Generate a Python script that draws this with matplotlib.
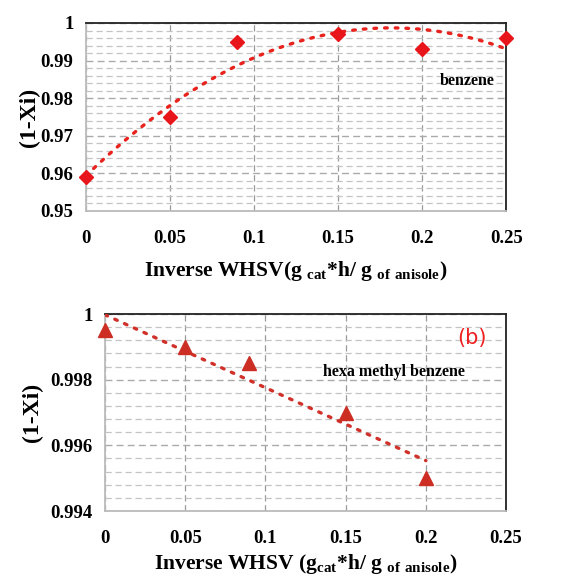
import matplotlib as mpl
mpl.use('Agg')
import matplotlib.pyplot as plt
from matplotlib.ticker import MultipleLocator, FuncFormatter
import numpy as np

# panel (a) benzene
x_benz = [0, 0.05, 0.09, 0.15, 0.2, 0.25]
y_benz = [0.959, 0.975, 0.995, 0.997, 0.993, 0.996]

# panel (b) hexa methyl benzene
x_hmb = [0, 0.05, 0.09, 0.15, 0.2]
y_hmb = [0.9995, 0.999, 0.9985, 0.997, 0.995]

x_ticks = [0, 0.05, 0.1, 0.15, 0.2, 0.25]

plt.rcParams['font.family'] = 'Liberation Serif'
plt.rcParams['font.weight'] = 'bold'
plt.rcParams['mathtext.fontset'] = 'custom'
plt.rcParams['mathtext.rm'] = 'Liberation Serif:bold'
plt.rcParams['mathtext.bf'] = 'Liberation Serif:bold'

fmt = FuncFormatter(lambda v, p: '%g' % round(v, 4))


def style(ax, ymin, ymax, major, minor):
    ax.set_xlim(0, 0.25)
    ax.set_ylim(ymin, ymax)
    ax.set_xticks(x_ticks)
    ax.yaxis.set_major_locator(MultipleLocator(major))
    ax.yaxis.set_minor_locator(MultipleLocator(minor))
    ax.xaxis.set_major_formatter(fmt)
    ax.yaxis.set_major_formatter(fmt)
    ax.grid(True, which='major', axis='x', color='#999999', ls=(0, (5, 3)), lw=0.9)
    ax.grid(True, which='major', axis='y', color='#aaaaaa', ls=(0, (5, 3)), lw=1.0)
    ax.grid(True, which='minor', axis='y', color='#c4c4c4', ls=(0, (5, 3)), lw=0.9)
    ax.set_axisbelow(True)
    ax.tick_params(which='both', length=0, labelsize=13.5)
    ax.tick_params(axis='x', pad=14)
    ax.tick_params(axis='y', pad=9)
    for s in ['top', 'right']:
        ax.spines[s].set_color('#222222')
        ax.spines[s].set_linewidth(1.3)
    for s in ['left', 'bottom']:
        ax.spines[s].set_color('#bbbbbb')
        ax.spines[s].set_linewidth(1.3)
    for lab in ax.get_xticklabels() + ax.get_yticklabels():
        lab.set_fontweight('bold')


fig = plt.figure(figsize=(5.65, 5.76), dpi=100)

ax1 = fig.add_axes([0.152, 0.6337, 0.744, 0.3264])
style(ax1, 0.95, 1.0, 0.01, 0.002)
c1 = np.polyfit(x_benz, y_benz, 2)
xf = np.linspace(0, 0.25, 200)
ax1.plot(xf, np.polyval(c1, xf), color='#e8231e', lw=2.4, ls=(0, (0.8, 2.4)),
         dash_capstyle='round', zorder=3)
ax1.plot(x_benz, y_benz, 'D', color='#e8151b', ms=7, zorder=4, clip_on=False)
ax1.text(0.2265, 0.9845, 'benzene', fontsize=11.5, fontweight='bold', ha='center', va='center')
ax1.set_ylabel('(1-Xi)', fontsize=17, fontweight='bold', labelpad=0)
ax1.set_xlabel(r'Inverse WHSV(g$_{\ \mathrm{cat}}$*h/ g$_{\ \mathrm{of\ anisole}}$)',
               fontsize=15.5, fontweight='bold', labelpad=8)

ax2 = fig.add_axes([0.186, 0.1128, 0.7097, 0.342])
style(ax2, 0.994, 1.0, 0.002, 0.0004)
c2 = np.polyfit(x_hmb, y_hmb, 1)
xf2 = np.linspace(0, 0.2, 200)
ax2.plot(xf2, np.polyval(c2, xf2), color='#d0312a', lw=2.4, ls=(0, (0.8, 2.4)),
         dash_capstyle='round', zorder=3)
ax2.plot(x_hmb, y_hmb, '^', color='#cc2e24', ms=10, zorder=4, clip_on=False)
ax2.text(0.18, 0.99822, 'hexa methyl benzene', fontsize=11.5, fontweight='bold',
         ha='center', va='center')
ax2.text(0.2285, 0.99928, '(b)', fontsize=15, color='#ee2222', fontweight='normal',
         family='DejaVu Sans', ha='center', va='center')
ax2.set_ylabel('(1-Xi)', fontsize=17, fontweight='bold', labelpad=5)
ax2.set_xlabel(r'Inverse WHSV (g$_{\mathrm{cat}}$*h/ g$_{\ \mathrm{of\ anisole}}$)',
               fontsize=15.5, fontweight='bold', labelpad=3)

fig.savefig('out.png', dpi=100)
